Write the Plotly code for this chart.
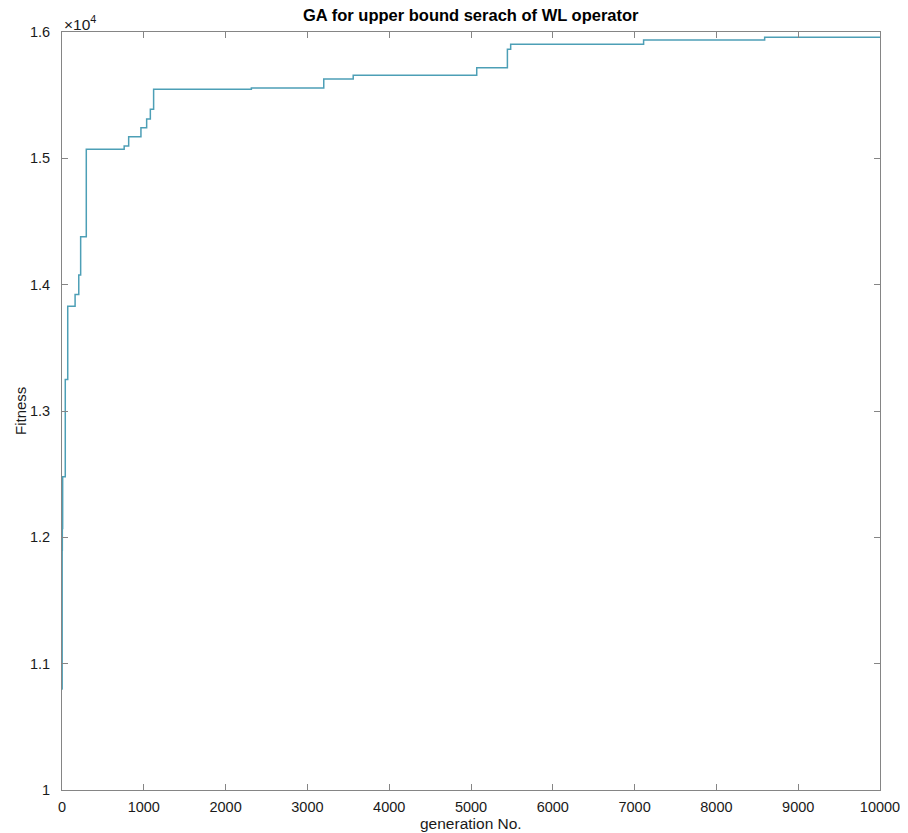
import plotly.graph_objects as go

# Data (step function of best fitness per generation)
generations = [1, 2, 4, 8, 40, 70, 160, 205, 228, 297, 760, 815, 965, 1035, 1080,
               1120, 2315, 3200, 3560, 5070, 5445, 5485, 7110, 8590, 10000]
fitness = [10800, 11900, 12070, 12480, 13250, 13830, 13923, 14076, 14380, 15071,
           15097, 15171, 15242, 15311, 15388, 15546, 15556, 15628, 15657, 15718,
           15863, 15903, 15937, 15958, 15958]

x_ticks = [0, 1000, 2000, 3000, 4000, 5000, 6000, 7000, 8000, 9000, 10000]
y_ticks = [10000, 11000, 12000, 13000, 14000, 15000, 16000]
y_tick_labels = ["1", "1.1", "1.2", "1.3", "1.4", "1.5", "1.6"]

title_text = "GA for upper bound serach of WL operator"
x_label = "generation No."
y_label = "Fitness"

FONT = "Liberation Sans, Arial, Helvetica, sans-serif"
AX = "#858585"
TXT = "#1a1a1a"

fig = go.Figure()
fig.add_trace(go.Scatter(
    x=generations, y=fitness, mode="lines",
    line=dict(color="#4d9fb6", width=1.5, shape="hv"),
    showlegend=False,
))

axis_common = dict(
    showgrid=False, zeroline=False, showline=True, linecolor=AX, linewidth=1,
    mirror="ticks", ticks="inside", ticklen=6, tickcolor=AX, tickwidth=1,
    tickfont=dict(size=14.5, color=TXT),
)

fig.update_layout(
    width=908, height=833,
    margin=dict(l=54, r=36, t=24, b=51),
    paper_bgcolor="white", plot_bgcolor="white",
    font=dict(family=FONT, size=14, color=TXT),
    xaxis=dict(range=[0, 10000], tickvals=x_ticks,
               ticktext=[str(v) for v in x_ticks], ticklabelstandoff=4,
               **axis_common),
    yaxis=dict(range=[10000, 16000], tickvals=y_ticks, ticktext=y_tick_labels,
               ticklabelstandoff=8, **axis_common),
    annotations=[
        dict(text="<b>" + title_text + "</b>", xref="paper", yref="paper",
             x=0.5, y=1, yshift=17, xanchor="center", yanchor="middle",
             showarrow=False, font=dict(size=16.5, color="#000000")),
        dict(text="×10<sup>4</sup>", xref="paper", yref="paper",
             x=0, y=1, xanchor="left", yanchor="bottom", yshift=-3,
             showarrow=False, font=dict(size=15.5, color=TXT)),
        dict(text=x_label, xref="paper", yref="paper",
             x=0.5, y=0, yshift=-33, xanchor="center", yanchor="middle",
             showarrow=False, font=dict(size=15.5, color=TXT)),
        dict(text=y_label, xref="paper", yref="paper",
             x=0, y=0.5, xshift=-42, xanchor="center", yanchor="middle",
             textangle=-90, showarrow=False, font=dict(size=15, color=TXT)),
    ],
)

fig.write_html("out.html")
